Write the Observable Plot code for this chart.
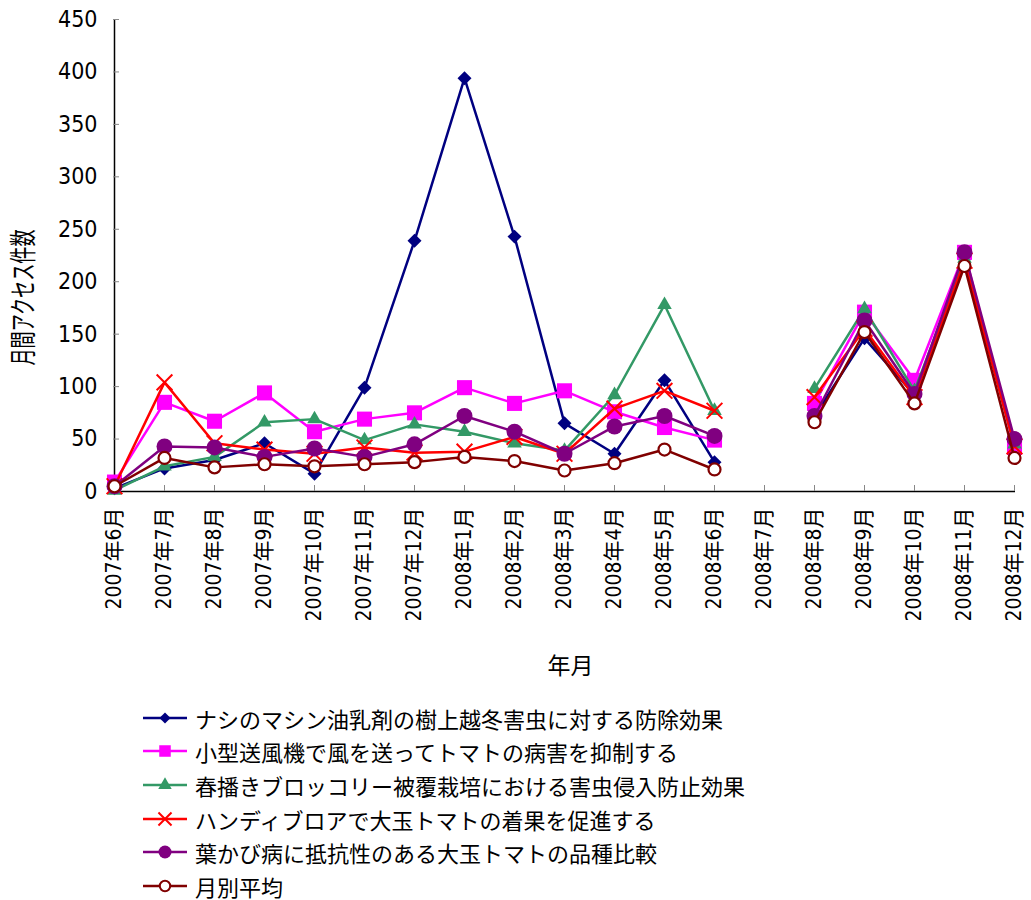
<!DOCTYPE html>
<html><head><meta charset="utf-8">
<script src="https://cdn.jsdelivr.net/npm/d3@7"></script>
<script src="https://cdn.jsdelivr.net/npm/@observablehq/plot@0.6"></script>
<style>
body{margin:0;background:#fff;}
#chart{width:1031px;}
.legend{width:1031px;font-family:"Noto Sans CJK JP","Noto Sans",sans-serif;font-size:22px;color:#000;}
.row{display:flex;align-items:center;height:33.6px;padding-left:143px;box-sizing:border-box;}
.row svg{margin-right:8px;flex:none;}
.row span{white-space:nowrap;line-height:1;}
</style></head><body><div id="chart"></div><div class="legend" id="legend"></div>
<script>
const months = ["2007年6月","2007年7月","2007年8月","2007年9月","2007年10月","2007年11月","2007年12月",
  "2008年1月","2008年2月","2008年3月","2008年4月","2008年5月","2008年6月","2008年7月",
  "2008年8月","2008年9月","2008年10月","2008年11月","2008年12月"];
const yTicks = [0,50,100,150,200,250,300,350,400,450];
const seriesNames = [
  "ナシのマシン油乳剤の樹上越冬害虫に対する防除効果",
  "小型送風機で風を送ってトマトの病害を抑制する",
  "春播きブロッコリー被覆栽培における害虫侵入防止効果",
  "ハンディブロアで大玉トマトの着果を促進する",
  "葉かび病に抵抗性のある大玉トマトの品種比較",
  "月別平均"
];
const seriesColors = ["#000080","#FF00FF","#339966","#FF0000","#800080","#800000"];
// values per month (2008年7月 has no data)
const pearOil    = [3, 22, 30, 46, 17, 99, 239, 394, 243, 65, 36, 106, 28, null, 72, 146, 92, 222, 45];
const blowerTom  = [9, 85, 67, 94, 57, 69, 75, 99, 84, 96, 76, 61, 49, null, 84, 171, 106, 228, 42];
const broccoli   = [1, 24, 33, 66, 69, 49, 64, 57, 46, 39, 92, 178, 77, null, 98, 174, 96, 222, 45];
const handyBlow  = [5, 104, 46, 40, 36, 42, 37, 38, 52, 36, 79, 96, 77, null, 90, 155, 90, 220, 43];
const leafMold   = [5, 43, 42, 33, 41, 33, 45, 72, 57, 36, 62, 72, 53, null, 72, 163, 93, 228, 50];
const monthlyAvg = [5, 32, 23, 26, 24, 26, 28, 33, 29, 20, 27, 40, 21, null, 66, 152, 84, 215, 32];

const seriesValues = [pearOil, blowerTom, broccoli, handyBlow, leafMold, monthlyAvg];
const symbols = ["diamond2","square","triangle","times","circle","circle"];
const radii = [6.3, 8.5, 5.4, 7.2, 8, 6];

const yTitle = "月間アクセス件数";
const xTitle = "年月";
const textFont = '"Liberation Sans Narrow","DejaVu Sans Condensed","Noto Sans CJK JP",sans-serif';
const cjkFont = '"Noto Sans CJK JP","Noto Sans",sans-serif';

const marks = [
  Plot.ruleY([0], {stroke: "black", strokeWidth: 1.5}),
  Plot.ruleX([months[0]], {stroke: "black", strokeWidth: 1.5}),
  Plot.axisY({ticks: yTicks, tickSize: -6, tickPadding: 22, stroke: "#888", fontSize: 23, label: null, tickFormat: d => String(d)}),
  Plot.axisX({tickRotate: -90, tickSize: -6, tickPadding: 22, stroke: "#888", fontSize: 21, label: null}),
  Plot.text([yTitle], {text: d => d, frameAnchor: "left", textAnchor: "middle", rotate: -90, dx: -89, dy: 42, fontSize: 27, fontFamily: cjkFont, fill: "black"}),
  Plot.text([xTitle], {text: d => d, frameAnchor: "bottom", textAnchor: "middle", dx: 6, dy: 182, fontSize: 23, fontFamily: cjkFont, fill: "black"})
];

seriesValues.forEach((vals, i) => {
  const rows = months.map((m, j) => ({month: m, value: vals[j], series: seriesNames[i]}));
  const pts = rows.filter(d => d.value != null);
  const c = seriesColors[i];
  marks.push(Plot.line(rows, {x: "month", y: "value", stroke: c, strokeWidth: 2.5}));
  if (symbols[i] === "times") {
    marks.push(Plot.dot(pts, {x: "month", y: "value", symbol: "times", stroke: c, strokeWidth: 2, r: radii[i]}));
  } else if (i === 5) {
    marks.push(Plot.dot(pts, {x: "month", y: "value", symbol: "circle", fill: "white", stroke: c, strokeWidth: 2.2, r: radii[i]}));
  } else {
    marks.push(Plot.dot(pts, {x: "month", y: "value", symbol: symbols[i], fill: c, r: radii[i]}));
  }
});

const chart = Plot.plot({
  width: 1031,
  height: 701,
  marginTop: 19,
  marginBottom: 210,
  marginLeft: 113,
  marginRight: 16,
  x: {type: "point", domain: months, padding: 0},
  y: {domain: [0, 450]},
  style: {fontFamily: textFont, fontSize: "21px", color: "black", background: "white"},
  marks
});
chart.querySelectorAll("text").forEach(t => {
  if (t.textContent === yTitle) {
    t.setAttribute("textLength", "136");
    t.setAttribute("lengthAdjust", "spacingAndGlyphs");
  }
});
document.getElementById("chart").appendChild(chart);

// legend
const legend = document.getElementById("legend");
const legendR = [5, 6.5, 5, 6, 6.5, 5.2];
const symMap = {diamond2: d3.symbolDiamond2, square: d3.symbolSquare, triangle: d3.symbolTriangle, times: d3.symbolTimes, circle: d3.symbolCircle};
seriesNames.forEach((name, i) => {
  const row = document.createElement("div");
  row.className = "row";
  const svg = d3.create("svg").attr("width", 44).attr("height", 20);
  svg.append("line").attr("x1", 0).attr("x2", 44).attr("y1", 10).attr("y2", 10)
    .attr("stroke", seriesColors[i]).attr("stroke-width", 2.5);
  const size = Math.PI * legendR[i] * legendR[i];
  const p = svg.append("path").attr("transform", "translate(22,10)")
    .attr("d", d3.symbol(symMap[symbols[i]], size)());
  if (symbols[i] === "times") p.attr("fill", "none").attr("stroke", seriesColors[i]).attr("stroke-width", 2);
  else if (i === 5) p.attr("fill", "white").attr("stroke", seriesColors[i]).attr("stroke-width", 2);
  else p.attr("fill", seriesColors[i]);
  row.appendChild(svg.node());
  const span = document.createElement("span");
  span.textContent = name;
  row.appendChild(span);
  legend.appendChild(row);
});
</script></body></html>
